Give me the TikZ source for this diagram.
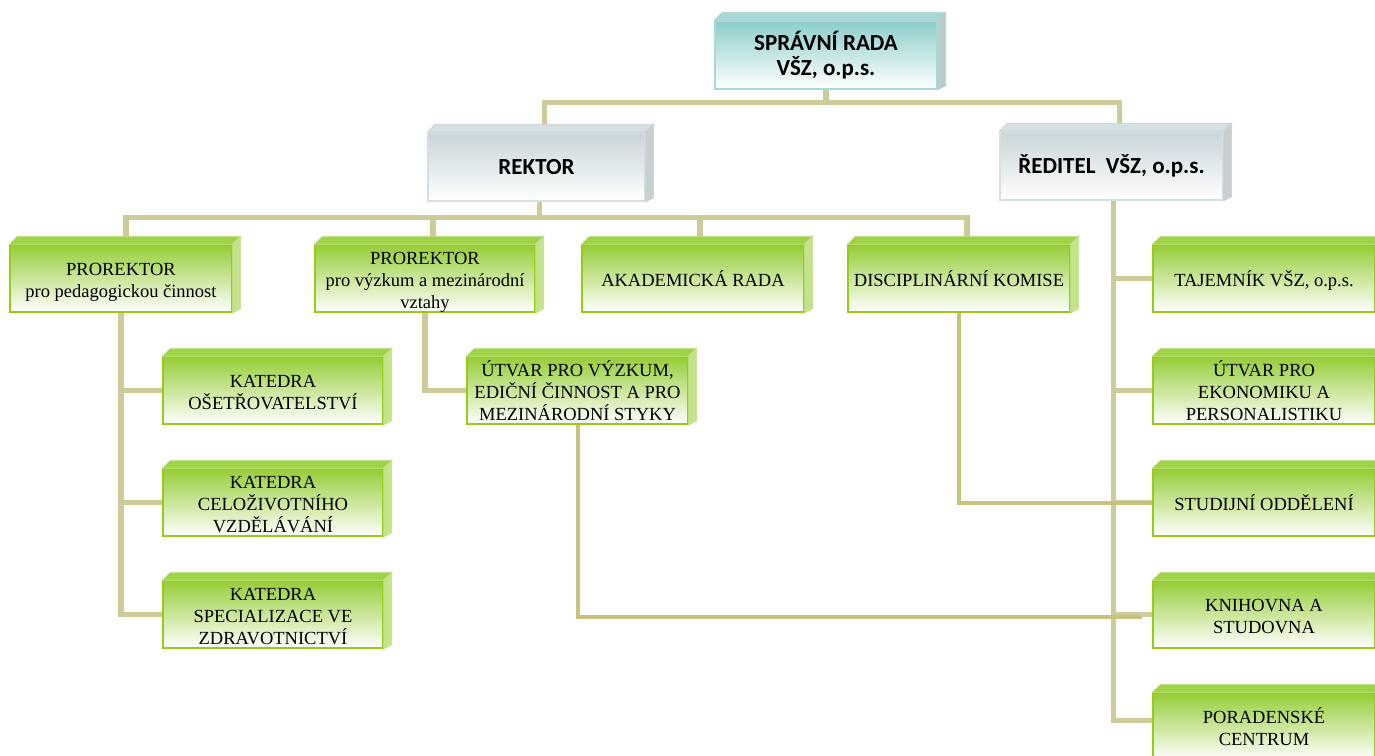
\documentclass[tikz,border=0pt]{standalone}
\usepackage{fontspec}
\setmainfont{Liberation Serif}
\newfontfamily\calfont{Carlito}
\usetikzlibrary{calc}
\pgfdeclarelayer{bg}
\pgfsetlayers{bg,main}
\definecolor{gTop}{RGB}{150,205,55}
\definecolor{gLine}{RGB}{150,204,20}
\definecolor{gBevT}{RGB}{160,210,70}
\definecolor{gBevS}{RGB}{196,226,140}
\definecolor{bTop}{RGB}{200,213,217}
\definecolor{bLine}{RGB}{214,224,227}
\definecolor{bBevT}{RGB}{214,223,226}
\definecolor{bBevS}{RGB}{200,208,210}
\definecolor{tTop}{RGB}{140,206,202}
\definecolor{tLine}{RGB}{165,218,214}
\definecolor{tBevT}{RGB}{166,217,213}
\definecolor{tBevS}{RGB}{185,204,204}
\definecolor{lineC}{RGB}{205,203,154}
\definecolor{lineD}{RGB}{200,194,122}
\newcommand\bevel[3]{%
  \filldraw[fill=#2,draw=#3,line width=0.8pt] (#1.north west) -- ++(8,-8) -- ($(#1.north east)+(8,-8)$) -- (#1.north east) -- cycle;
  \filldraw[fill=#3,draw=#3,line width=0.8pt] (#1.north east) -- ++(8,-8) -- ($(#1.south east)+(8,-4)$) -- (#1.south east) -- cycle;
}
\tikzset{
  gbox/.style={rectangle, draw=gLine, line width=1.4pt, top color=gTop, middle color=gTop!45!white, bottom color=white,
    minimum width=222pt, minimum height=67pt, inner sep=2pt, align=center, font=\fontsize{18.5}{22}\selectfont},
  gone/.style={gbox, text height=15pt, text depth=0pt},
  gtwo/.style={gbox, text height=42pt, text depth=5pt},
  gthree/.style={gbox, text height=59pt, text depth=0pt},
  bbox/.style={rectangle, draw=bLine, line width=1.4pt, top color=bTop, bottom color=white,
    minimum width=222pt, minimum height=68pt, inner sep=2pt, align=center, font=\calfont\bfseries\fontsize{23}{25.5}\selectfont},
  tbox/.style={bbox, draw=tLine, top color=tTop, bottom color=white},
  conn/.style={draw=lineC, line width=5.5pt},
  conn2/.style={draw=lineD, line width=4pt},
}
\begin{document}
\begin{tikzpicture}[x=1pt,y=-1pt]
\useasboundingbox (0,0) rectangle (1375,755);
\clip (0,0) rectangle (1375,755);
% top levels
\node[tbox] (sr) at (826,55) {SPRÁVNÍ RADA\\VŠZ, o.p.s.};
\node[bbox, minimum width=217pt] (rektor) at (536.5,167) {REKTOR};
\node[bbox, minimum width=223pt] (reditel) at (1111.5,166) {ŘEDITEL\ \ VŠZ, o.p.s.};
% row 1
\node[gtwo] (prped) at (121,278.5) {PROREKTOR\\pro pedagogickou činnost};
\node[gthree, minimum width=220pt] (prvyz) at (425,278.5) {PROREKTOR\\pro výzkum a mezinárodní\\vztahy};
\node[gone] (akad) at (693,278.5) {AKADEMICKÁ RADA};
\node[gone] (disc) at (959,278.5) {DISCIPLINÁRNÍ KOMISE};
\node[gone] (taj) at (1264,278.5) {TAJEMNÍK VŠZ, o.p.s.};
% left column
\node[gtwo, minimum width=220pt] (kos) at (273,390.5) {KATEDRA\\OŠETŘOVATELSTVÍ};
\node[gthree, minimum width=220pt] (kcel) at (273,502.5) {KATEDRA\\CELOŽIVOTNÍHO\\VZDĚLÁVÁNÍ};
\node[gthree, minimum width=220pt] (kspec) at (273,614.5) {KATEDRA\\SPECIALIZACE VE\\ZDRAVOTNICTVÍ};
% middle
\node[gthree, minimum width=221pt] (utv) at (577.5,390.5) {ÚTVAR PRO VÝZKUM,\\EDIČNÍ ČINNOST A PRO\\MEZINÁRODNÍ STYKY};
% right column
\node[gthree] (eko) at (1264,390.5) {ÚTVAR PRO\\EKONOMIKU A\\PERSONALISTIKU};
\node[gone] (stud) at (1264,502.5) {STUDIJNÍ ODDĚLENÍ};
\node[gtwo] (kni) at (1264,614.5) {KNIHOVNA A\\STUDOVNA};
\node[gtwo] (por) at (1264,726.5) {PORADENSKÉ\\CENTRUM};
% bevels
\bevel{sr}{tBevT}{tBevS}
\bevel{rektor}{bBevT}{bBevS}
\bevel{reditel}{bBevT}{bBevS}
\foreach \n in {prped,prvyz,akad,disc,taj,kos,kcel,kspec,utv,eko,stud,kni,por}{\bevel{\n}{gBevT}{gBevS}}
% connectors
\begin{pgfonlayer}{bg}
\coordinate (b1) at ($(sr.south)+(0,13)$);
\draw[conn] (sr.south) -- (b1);
\draw[conn] ($(rektor.north)+(8,0)$) |- (b1);
\draw[conn] (b1) -| ($(reditel.north)+(8,0)$);
\coordinate (rs) at ($(rektor.south)+(3,0)$);
\coordinate (b2) at ($(rs)+(0,16)$);
\draw[conn] (rs) -- (b2);
\draw[conn] ($(prped.north)+(5,0)$) |- (b2);
\draw[conn] (b2) -| ($(prvyz.north)+(8,0)$);
\draw[conn] (b2) -| ($(akad.north)+(7,0)$);
\draw[conn] (b2) -| ($(disc.north)+(8,0)$);
% left tree
\draw[conn] (prped.south) |- (kspec.west);
\draw[conn] (prped.south |- kos.west) -- (kos.west);
\draw[conn] (prped.south |- kcel.west) -- (kcel.west);
% prorektor vyzkum
\draw[conn] (prvyz.south) |- (utv.west);
% reditel tree
\coordinate (rv) at ($(reditel.south)+(2,0)$);
\coordinate (pj) at ($(por.west)+(0,-6)$);
\draw[conn] (rv) |- (pj);
\draw[conn] (rv |- taj.west) -- (taj.west);
\draw[conn] (rv |- eko.west) -- (eko.west);
\draw[conn] (rv |- stud.west) -- (stud.west);
\draw[conn] (rv |- kni.west) -- (kni.west);
% long lines
\coordinate (kend) at ($(kni.west)+(-10,2)$);
\draw[conn2] (utv.south) |- (kend);
\draw[conn2] (disc.south) |- (stud.west);
\end{pgfonlayer}
\end{tikzpicture}
\end{document}
